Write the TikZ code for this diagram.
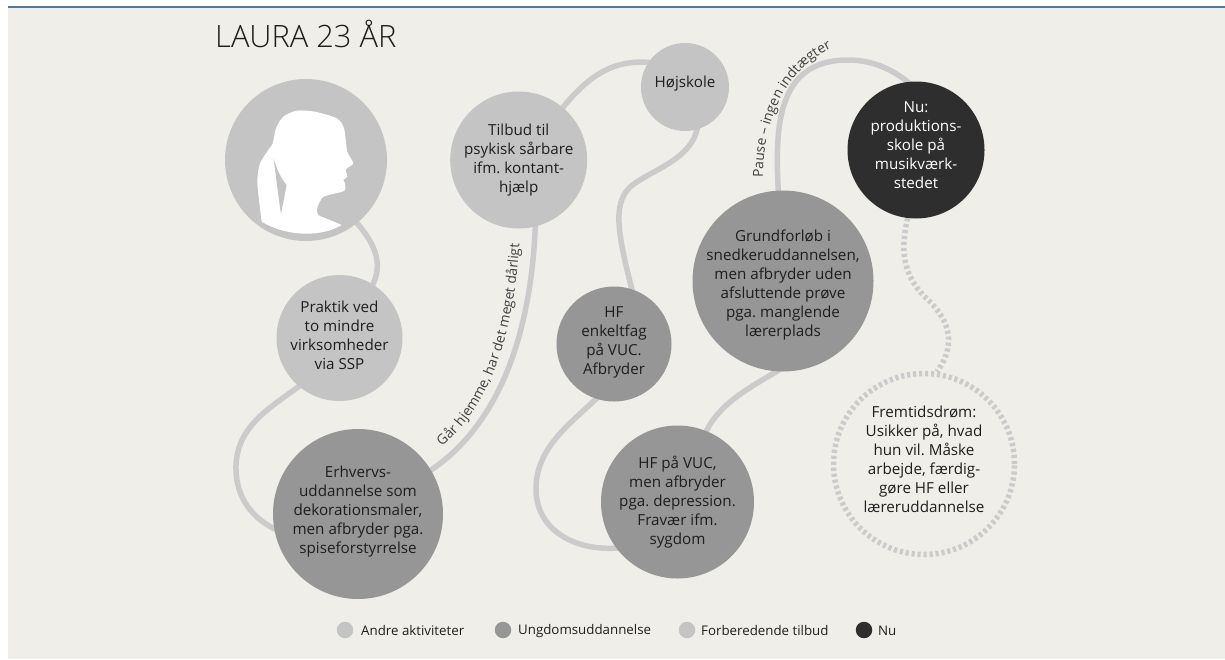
\documentclass[tikz,border=0pt]{standalone}
\usepackage{fontspec}
\setmainfont{Open Sans}
\newfontfamily\titlefont{Open Sans Light}
\usetikzlibrary{decorations.text}
\pgfdeclarelayer{paper}
\pgfdeclarelayer{links}
\pgfsetlayers{paper,links,main}
\definecolor{bgc}{HTML}{F0EEE9}
\definecolor{lightc}{HTML}{C4C4C4}
\definecolor{midc}{HTML}{969696}
\definecolor{darkc}{HTML}{2E2E2E}
\definecolor{linec}{HTML}{CBCBCB}
\definecolor{topc}{HTML}{4F7A97}
\definecolor{txtc}{HTML}{1E1E1E}
\newcommand\lifted[2]{\raisebox{#1}[\height][\depth]{\begin{tabular}{@{}c@{}}#2\end{tabular}}}
\tikzset{
  x=1pt,y=-1pt,
  stage/.style={circle,inner sep=-30pt,align=center,text=txtc,font=\fontsize{15.2}{19}\selectfont\frenchspacing},
  soft/.style={stage,fill=lightc},
  edu/.style={stage,fill=midc},
  now/.style={stage,fill=darkc,text=white},
  dream/.style={stage,draw=linec,line width=5.5pt,dash pattern=on 3.2pt off 2.8pt},
  link/.style={draw=linec,line width=5.5pt,shorten <=-4pt,shorten >=-4pt},
  linkdot/.style={link,dash pattern=on 3.2pt off 2.8pt,shorten <=0pt,shorten >=0pt},
  keydot/.style={circle,inner sep=0pt,minimum size=16.5pt},
  keytext/.style={anchor=west,inner sep=0pt,text=txtc,font=\fontsize{13.3}{16}\selectfont},
  curved/.style={decorate,decoration={text along path,text align=center,text={|\fontsize{13.8}{16}\selectfont\color{txtc!85!white}|#1}}}
}
\begin{document}
\begin{tikzpicture}
\useasboundingbox (0,0) rectangle (1225,659);
\begin{pgfonlayer}{paper}
\fill[white] (0,0) rectangle (1225,659);
\fill[bgc] (8,7) rectangle (1225,659);
\fill[topc] (8,5.7) rectangle (1225,7.8);
\end{pgfonlayer}
\node[soft,minimum size=162pt] (portrait) at (306,160) {};
\node[soft,minimum size=126pt] (praktik) at (339.5,338) {\lifted{1pt}{Praktik ved\\to mindre\\virksomheder\\via SSP}};
\node[edu,minimum size=170pt] (erhverv) at (358,514) {\lifted{2pt}{Erhvervs-\\uddannelse som\\dekorationsmaler,\\men afbryder pga.\\spiseforstyrrelse}};
\node[soft,minimum size=137pt] (tilbud) at (518.7,160) {Tilbud til\\psykisk sårbare\\ifm. kontant-\\hjælp};
\node[soft,minimum size=88pt] (hojskole) at (685,87) {\lifted{3pt}{Højskole}};
\node[edu,minimum size=115pt] (enkelt) at (614,344) {\lifted{2pt}{HF\\enkeltfag\\på VUC.\\Afbryder}};
\node[edu,minimum size=153pt] (vuc) at (677.5,502) {HF på VUC,\\men afbryder\\pga. depression.\\Fravær ifm.\\sygdom};
\node[edu,minimum size=181pt] (grund) at (783,281) {\lifted{-4pt}{Grundforløb i\\snedkeruddannelsen,\\men afbryder uden\\afsluttende prøve\\pga. manglende\\lærerplads}};
\node[now,minimum size=137pt] (nu) at (916,150) {\lifted{3pt}{Nu:\\produktions-\\skole på\\musikværk-\\stedet}};
\node[dream,minimum size=181pt] (drom) at (924,464) {\lifted{3pt}{Fremtidsdrøm:\\Usikker på, hvad\\hun vil. Måske\\arbejde, færdig-\\gøre HF eller\\læreruddannelse}};
% silhouette
\fill[white] plot[smooth,tension=0.45] coordinates {(341.7,225) (330,220) (318.3,215) (317.3,208) (323.3,197) (340,192.3) (345,190) (345,183.3) (343.3,180) (347.3,176.7) (346,169.3) (353.3,163.3) (347.3,151.7) (344,128.3) (336.7,118.3) (315,111.7) (296.7,110.7) (283.3,116.7) (276,128.3) (272.7,143.3) (268.3,150) (260,163.3) (257.3,180) (259,200) (261.7,221.7)} .. controls (285,236) and (320,238) .. (341.7,225) -- cycle;
\fill[lightc] (273.5,158.5) .. controls (277,170) and (281,178) .. (286.5,185) .. controls (284,200) and (282,208) .. (281,214) .. controls (278,195) and (276,175) .. (273.5,158.5) -- cycle;
% connectors
\begin{pgfonlayer}{links}
\draw[link] (portrait.-51) .. controls (372,240) and (386,262) .. (praktik.58);
\draw[link] (praktik.230) .. controls (270,408) and (238,425) .. (236,465) .. controls (235,500) and (255,520) .. (erhverv.190);
\draw[link] (erhverv.31) .. controls (478,440) and (530,370) .. (tilbud.-76);
\draw[link] (tilbud.50) .. controls (585,80) and (610,58) .. (hojskole.146);
\draw[link] (hojskole.-74) .. controls (693,160) and (650,170) .. (630,187) .. controls (612,205) and (618,235) .. (enkelt.72);
\draw[link] (enkelt.252) .. controls (575,420) and (537,445) .. (536,487) .. controls (535,530) and (575,552) .. (vuc.217);
\draw[link] (vuc.68) .. controls (718,405) and (745,390) .. (grund.266);
\draw[link] (grund.93) .. controls (775,130) and (775,60) .. (848,60) .. controls (870,60) and (892,68) .. (nu.97);
\draw[linkdot] (nu.-97) .. controls (900,250) and (903,275) .. (925,297) .. controls (945,315) and (960,340) .. (drom.82);
\end{pgfonlayer}
% curved labels
\path[curved={Går hjemme, har det meget dårligt}] (432,453) .. controls (470,428) and (514,370) .. (520,232);
\path[curved={Pause – ingen indtægter}] (763,178) .. controls (763,120) and (785,70) .. (832,48);
% title
\node[anchor=west,inner sep=0pt,font=\titlefont\fontsize{30.8}{35}\selectfont,text=txtc] (title) at (215,34) {LAURA 23 ÅR};
% legend
\node[keydot,fill=lightc] (k1) at (345,630) {};
\node[keytext] (t1) at (361,631) {Andre aktiviteter};
\node[keydot,fill=midc] (k2) at (503,630) {};
\node[keytext] (t2) at (518,631) {Ungdomsuddannelse};
\node[keydot,fill=lightc] (k3) at (687,630) {};
\node[keytext] (t3) at (701,631) {Forberedende tilbud};
\node[keydot,fill=darkc] (k4) at (864,630) {};
\node[keytext] (t4) at (878,631) {Nu};
\end{tikzpicture}
\end{document}
